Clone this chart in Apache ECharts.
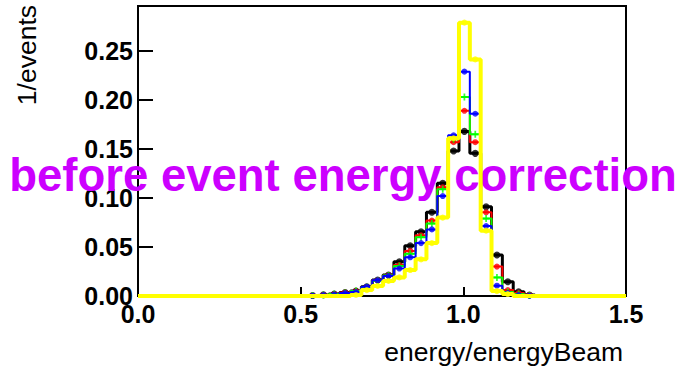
<!DOCTYPE html>
<html><head><meta charset="utf-8">
<script src="https://cdn.jsdelivr.net/npm/echarts@6/dist/echarts.min.js"></script>
<style>html,body{margin:0;padding:0;background:#fff}#c{width:688px;height:377px}</style>
</head><body><div id="c"></div>
<script>
// bin centres (bin width 1/30)
const binCenters = [0.5367, 0.57, 0.6033, 0.6367, 0.67, 0.7033, 0.7367, 0.77, 0.8033, 0.8367, 0.87, 0.9033, 0.9367, 0.97, 1.0033, 1.0367, 1.07, 1.1033, 1.1367, 1.17, 1.2033];
const binWidth = 0.03333;
const blackVals  = [0.0005, 0.0012, 0.002, 0.0035, 0.005, 0.0095, 0.0163, 0.0214, 0.035, 0.0513, 0.0656, 0.0854, 0.115, 0.148, 0.168, 0.1456, 0.091, 0.0418, 0.0146, 0.0044, 0.001];
const redVals    = [0.0005, 0.0012, 0.002, 0.0035, 0.005, 0.009, 0.016, 0.021, 0.0316, 0.046, 0.062, 0.077, 0.111, 0.157, 0.189, 0.157, 0.0854, 0.030, 0.006, 0.003, 0.001];
const greenVals  = [0.0004, 0.001, 0.002, 0.003, 0.005, 0.009, 0.0155, 0.021, 0.0306, 0.043, 0.060, 0.074, 0.109, 0.160, 0.203, 0.165, 0.079, 0.019, 0.004, 0.002, 0.0005];
const blueVals   = [0.0003, 0.001, 0.0015, 0.003, 0.004, 0.0095, 0.016, 0.0204, 0.028, 0.0395, 0.054, 0.068, 0.102, 0.164, 0.229, 0.186, 0.0714, 0.0105, 0.003, 0.001, 0.0003];
const yellowVals = [0, 0, 0, 0, 0.001, 0.006, 0.0102, 0.0153, 0.019, 0.0265, 0.0374, 0.054, 0.080, 0.161, 0.279, 0.2415, 0.0667, 0.005, 0.002, 0, 0];
const xTicks = [0, 0.5, 1.0, 1.5];
const yTicks = [0, 0.05, 0.10, 0.15, 0.20, 0.25];
const xMin = 0, xMax = 1.5, yMin = 0, yMax = 0.296;
const titleText = 'before event energy correction';
const xTitle = 'energy/energyBeam';
const yTitle = '1/events';

function stepData(vals) {
  const pts = [[xMin, 0]];
  const n = binCenters.length;
  pts.push([binCenters[0] - binWidth / 2, 0]);
  for (let i = 0; i < n; i++) {
    pts.push([binCenters[i] - binWidth / 2, vals[i]]);
    pts.push([binCenters[i] + binWidth / 2, vals[i]]);
  }
  pts.push([binCenters[n - 1] + binWidth / 2, 0]);
  pts.push([xMax, 0]);
  return pts;
}
function markerData(vals) {
  return binCenters.map((c, i) => [c, vals[i]]).filter(p => p[1] > 0);
}
const plus = 'path://M3,0h2v3h3v2h-3v3h-2v-3h-3v-2h3z';
const hists = [
  { vals: blackVals, color: '#000000', w: 3, sym: 'circle', size: 7 },
  { vals: redVals, color: '#ff0000', w: 2, sym: 'circle', size: 6 },
  { vals: greenVals, color: '#00ff00', w: 2, sym: plus, size: 7 },
  { vals: blueVals, color: '#0000ff', w: 2, sym: 'circle', size: 6 },
  { vals: yellowVals, color: '#ffff00', w: 4, sym: 'circle', size: 6 }
];
const series = [];
hists.forEach((h, k) => {
  series.push({
    type: 'line', data: stepData(h.vals), showSymbol: false, silent: true,
    lineStyle: { color: h.color, width: h.w }, z: 10 + k * 2, animation: false
  });
  series.push({
    type: 'scatter', data: markerData(h.vals), symbol: h.sym, symbolSize: h.size,
    itemStyle: { color: h.color }, z: 11 + k * 2, animation: false
  });
});

const chart = echarts.init(document.getElementById('c'), null, { renderer: 'svg' });
chart.setOption({
  animation: false,
  backgroundColor: '#ffffff',
  grid: { left: 138, right: 62, top: 6, bottom: 81, show: true, borderColor: '#000', borderWidth: 2, containLabel: false },
  xAxis: {
    type: 'value', min: xMin, max: xMax, interval: 0.5,
    axisLine: { show: true, lineStyle: { color: '#000', width: 2 } },
    axisTick: { show: true, inside: true, length: 9, lineStyle: { color: '#000', width: 2 }, customValues: xTicks },
    axisLabel: { margin: 5, color: '#000', fontSize: 25, fontWeight: 'bold', fontFamily: 'Liberation Sans',
      customValues: xTicks, formatter: v => v.toFixed(1) },
    splitLine: { show: false }
  },
  yAxis: {
    type: 'value', min: yMin, max: yMax, interval: 0.05,
    axisLine: { show: true, lineStyle: { color: '#000', width: 2 } },
    axisTick: { show: true, inside: true, length: 15, lineStyle: { color: '#000', width: 2 }, customValues: yTicks },
    axisLabel: { margin: 5, color: '#000', fontSize: 25, fontWeight: 'bold', fontFamily: 'Liberation Sans',
      customValues: yTicks, formatter: v => v.toFixed(2) },
    splitLine: { show: false }
  },
  graphic: [
    { type: 'text', x: 343, y: 175, z: 1, silent: true,
      style: { text: titleText, font: 'bold 45.5px "Liberation Sans"', fill: '#cc00ff', align: 'center', verticalAlign: 'middle' } },
    { type: 'text', x: 623, y: 352, z: 1, silent: true,
      style: { text: xTitle, font: '26.5px "Liberation Sans"', fill: '#000', align: 'right', verticalAlign: 'middle' } },
    { type: 'text', x: 27, y: 5, rotation: Math.PI / 2, z: 1, silent: true,
      style: { text: yTitle, font: '26.5px "Liberation Sans"', fill: '#000', align: 'right', verticalAlign: 'middle' } }
  ],
  series: series
});
</script></body></html>
